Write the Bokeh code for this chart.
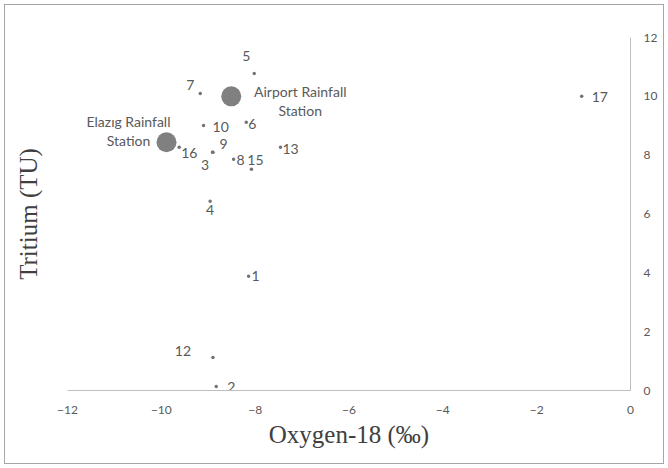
from bokeh.plotting import figure
from bokeh.models import ColumnDataSource, LinearAxis, FixedTicker, Range1d
from bokeh.core.properties import value
from bokeh.embed import file_html
from bokeh.resources import INLINE

# ---- data ----
sample_ids = ["1", "2", "3", "4", "5", "6", "7", "8", "9", "10", "12", "13", "15", "16", "17"]
oxygen18 = [-8.14, -8.83, -8.90, -8.96, -8.02, -8.19, -9.17, -8.46, -8.91, -9.10, -8.90, -7.46, -8.08, -9.62, -1.04]
tritium = [3.88, 0.14, 8.10, 6.43, 10.78, 9.12, 10.10, 7.86, 8.10, 9.01, 1.12, 8.27, 7.52, 8.27, 10.00]

station_names = ["Airport Rainfall\nStation", "Elazıg Rainfall\nStation"]
station_oxygen18 = [-8.51, -9.89]
station_tritium = [10.00, 8.44]

x_ticks = [-12, -10, -8, -6, -4, -2, 0]
y_ticks = [0, 2, 4, 6, 8, 10, 12]

# ---- label placement (screen px, layout only) ----
label_dx = [3, 11, -8, 0, -8, 2, -10, 3, 11, 9, -30, 2, 4, 2, 10]
label_dy = [0, 1, 13, 9, -17, 2, -8, 1, -8, 2, -7, 2, -9, 6, 1]
label_align = ["left", "left", "center", "center", "center", "left", "center", "left",
               "center", "left", "center", "left", "center", "left", "left"]
station_dx = [69, -38]
station_dy = [5, -11]

LABEL_FONT = "Lato"
GREY = "#595959"

p = figure(width=668, height=468, output_backend="svg", toolbar_location=None,
           x_range=Range1d(-12, 0), y_range=Range1d(0, 12),
           y_axis_location="right",
           min_border_left=67, min_border_right=38, min_border_top=37, min_border_bottom=78)
p.styles = {"outline": "1px solid #a6a6a6", "outline-offset": "-5px"}
p.border_fill_color = None
p.background_fill_color = None
p.outline_line_color = None
p.xgrid.visible = False
p.ygrid.visible = False

for ax, ticks in ((p.xaxis[0], x_ticks), (p.yaxis[0], y_ticks)):
    ax.ticker = FixedTicker(ticks=ticks)
    ax.major_tick_line_color = None
    ax.minor_tick_line_color = None
    ax.axis_line_color = "#bfbfbf"
    ax.major_label_text_color = GREY
    ax.major_label_text_font = LABEL_FONT
    ax.major_label_text_font_size = "12px"
p.xaxis.major_label_standoff = 9
p.yaxis.major_label_standoff = 7

p.xaxis.axis_label = "Oxygen-18 (‰)"
p.xaxis.axis_label_text_font = "Liberation Serif"
p.xaxis.axis_label_text_font_size = "25px"
p.xaxis.axis_label_text_font_style = "normal"
p.xaxis.axis_label_text_color = "#404040"
p.xaxis.axis_label_standoff = 4

left_axis = LinearAxis(axis_label="Tritium (TU)", ticker=FixedTicker(ticks=[]))
left_axis.major_label_standoff = 0
left_axis.major_tick_line_color = None
left_axis.minor_tick_line_color = None
left_axis.axis_line_color = None
left_axis.axis_label_text_font = "Liberation Serif"
left_axis.axis_label_text_font_size = "25px"
left_axis.axis_label_text_font_style = "normal"
left_axis.axis_label_text_color = "#404040"
left_axis.axis_label_standoff = 26
p.add_layout(left_axis, "left")

samples = ColumnDataSource(dict(x=oxygen18, y=tritium, name=sample_ids,
                                dx=label_dx, dy=label_dy, align=label_align))
stations = ColumnDataSource(dict(x=station_oxygen18, y=station_tritium, name=station_names,
                                 dx=station_dx, dy=station_dy))

p.scatter("x", "y", source=samples, size=3.5, marker="circle",
          fill_color="#737373", line_color=None)
p.scatter("x", "y", source=stations, size=20, marker="circle",
          fill_color="#808080", line_color=None)

p.text("x", "y", text="name", source=samples, x_offset="dx", y_offset="dy",
       text_align="align", text_baseline="middle",
       text_font=value(LABEL_FONT), text_font_size="14px", text_color=GREY)
p.text("x", "y", text="name", source=stations, x_offset="dx", y_offset="dy",
       text_align="center", text_baseline="middle", text_line_height=1.1,
       text_font=value(LABEL_FONT), text_font_size="14px", text_color=GREY)

open("out.html", "w").write(file_html(p, INLINE))
